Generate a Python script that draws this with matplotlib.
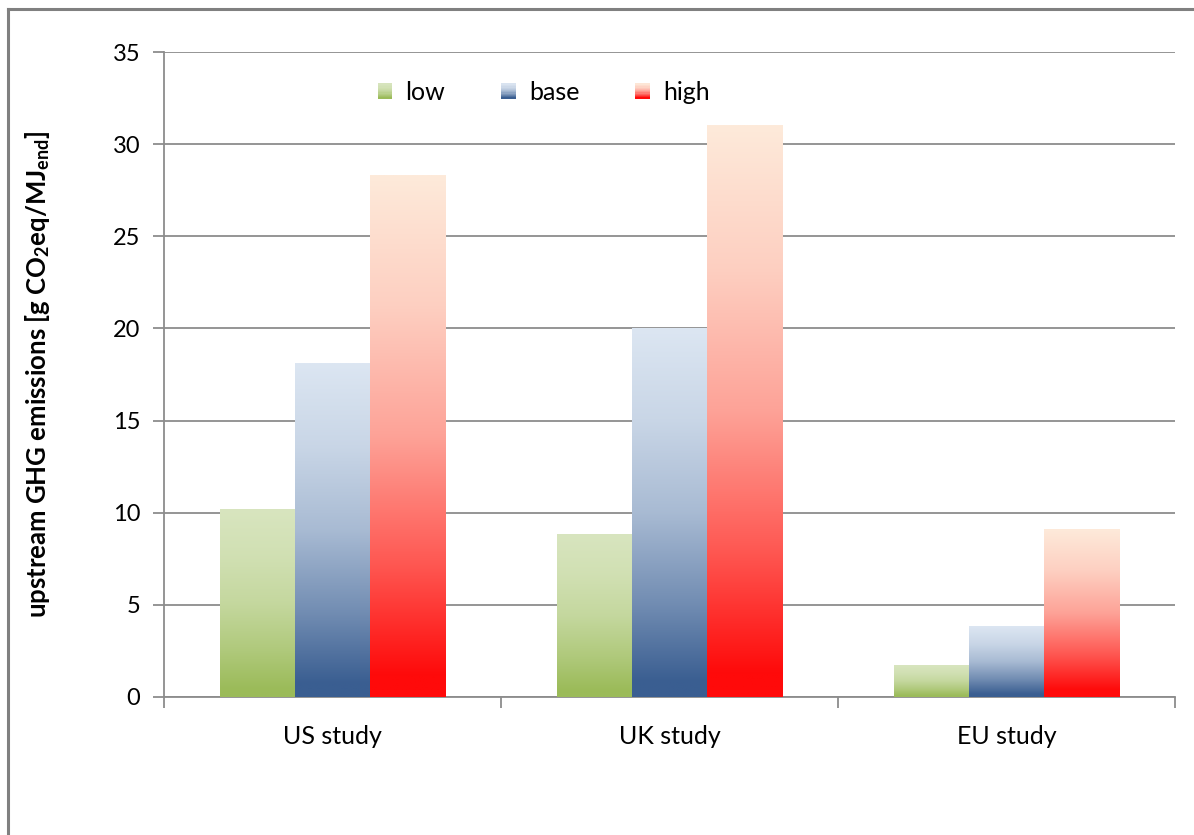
import matplotlib
matplotlib.use('Agg')
import matplotlib.pyplot as plt
import numpy as np
from matplotlib.colors import LinearSegmentedColormap, to_rgb
from matplotlib.patches import Rectangle
from matplotlib.legend_handler import HandlerBase
from matplotlib.lines import Line2D

plt.rcParams['font.family'] = ['Lato', 'DejaVu Sans']
plt.rcParams['font.sans-serif'] = ['Lato']
plt.rcParams['mathtext.fontset'] = 'custom'
plt.rcParams['mathtext.bf'] = 'Lato:bold'
plt.rcParams['mathtext.rm'] = 'Lato'

# данные
studies = ['US study', 'UK study', 'EU study']
series = ['low', 'base', 'high']
low = [10.2, 8.8, 1.7]
base = [18.1, 20.0, 3.8]
high = [28.3, 31.0, 9.1]

# цвета градиента: низ (тёмный) -> верх (светлый)
dark = {'low': '#9BBB59', 'base': '#3A5E91', 'high': '#FF0A0A'}
light = {'low': '#D8E5BF', 'base': '#DCE6F2', 'high': '#FDEADA'}
stops = [0, 0.04, 0.25, 0.5, 0.75, 1.0]
mix = [0, 0, 0.34, 0.68, 0.88, 1.0]


def make_cmap(name):
    d = np.array(to_rgb(dark[name]))
    l = np.array(to_rgb(light[name]))
    return LinearSegmentedColormap.from_list(name, [(s, tuple(d + (l - d) * m)) for s, m in zip(stops, mix)])


cmaps = {k: make_cmap(k) for k in series}


class GradHandler(HandlerBase):
    def create_artists(self, legend, orig_handle, xd, yd, w, h, fontsize, trans):
        cm = cmaps[orig_handle.get_label()]
        n = 12
        side = h * 0.85
        x0 = xd + (w - side) / 2
        y0 = yd + (h - side) / 2
        arts = []
        for i in range(n):
            r = Rectangle((x0, y0 + side * i / n), side, side / n + 0.3,
                          facecolor=cm((i + 0.5) / n), edgecolor='none', transform=trans)
            arts.append(r)
        return arts


fig = plt.figure(figsize=(11.94, 8.35), dpi=100)
ax = fig.add_axes([0.1374, 0.1653, 0.8467, 0.7724])

x = np.arange(len(studies))
w = 0.2226
gradient = np.linspace(0, 1, 256).reshape(-1, 1)
handles = []
for j, (name, vals) in enumerate(zip(series, [low, base, high])):
    bars = ax.bar(x + (j - 1) * w, vals, w, facecolor='none', edgecolor='none', label=name, zorder=3)
    for b in bars:
        x0, y0 = b.get_x(), b.get_y()
        ax.imshow(gradient, extent=[x0, x0 + b.get_width(), y0, y0 + b.get_height()],
                  origin='lower', aspect='auto', cmap=cmaps[name], zorder=3)
    handles.append(bars)

ax.set_xlim(-0.5, 2.5)
ax.set_ylim(0, 35)
ax.set_yticks(range(0, 36, 5))
ax.grid(axis='y', color='#8C8C8C', linewidth=1.3, zorder=0)
ax.set_axisbelow(True)

for s in ['top', 'right']:
    ax.spines[s].set_visible(False)
ax.spines['left'].set_color('#8C8C8C')
ax.spines['bottom'].set_color('#8C8C8C')
ax.spines['left'].set_linewidth(1.3)
ax.spines['bottom'].set_linewidth(1.3)

ax.set_xticks(x)
ax.set_xticklabels(studies, fontsize=18)
ax.tick_params(axis='x', length=0, pad=20)
ax.set_xticks([-0.5, 0.5, 1.5, 2.5], minor=True)
ax.tick_params(axis='x', which='minor', length=8, color='#8C8C8C', width=1.3, direction='out')
ax.tick_params(axis='y', length=8, color='#8C8C8C', width=1.3, labelsize=17, pad=9)

ax.set_ylabel(r'upstream GHG emissions [g CO$_\mathbf{2}$eq/MJ$_\mathbf{end}$]',
              fontsize=18.5, fontweight='bold', labelpad=44)

ax.legend(handles, series, loc='upper center', bbox_to_anchor=(0.374, 0.99), ncol=3,
          frameon=False, fontsize=18, handler_map={type(handles[0]): GradHandler()},
          handlelength=0.85, handletextpad=0.4, columnspacing=2.1)

# рамка рисунка
fig.add_artist(Line2D([8 / 1194, 1], [1 - 9 / 835, 1 - 9 / 835], transform=fig.transFigure,
                      color='#808080', linewidth=2.2))
fig.add_artist(Line2D([8 / 1194, 8 / 1194], [0, 1 - 9 / 835], transform=fig.transFigure,
                      color='#808080', linewidth=2.2))

fig.savefig('out.png', dpi=100)
